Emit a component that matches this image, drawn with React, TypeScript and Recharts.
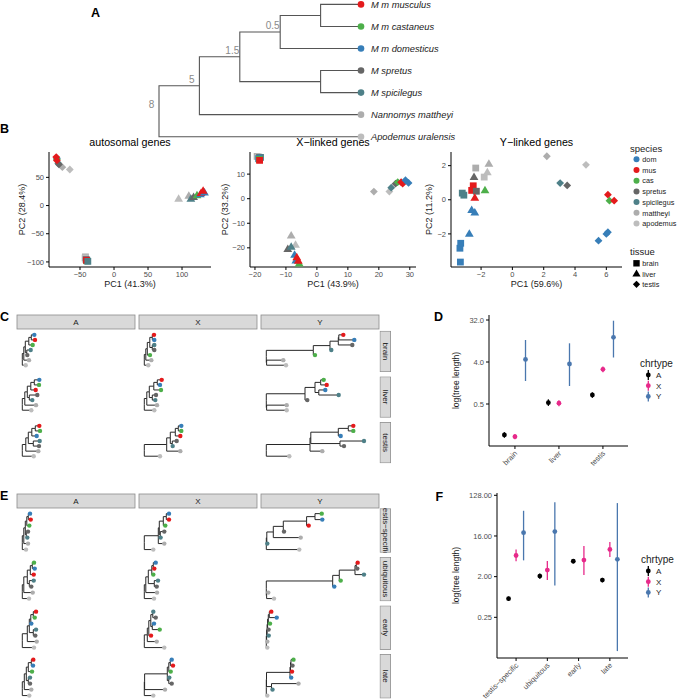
import React from 'react';
import { ComposedChart, ScatterChart, Scatter, Line, XAxis, YAxis, ErrorBar } from 'recharts';

const FONT = '"Liberation Sans", Arial, Helvetica, sans-serif';
const TICK_GRAY = '#4d4d4d';

// species keys, legend labels, colours
const speciesKeys = ['dom', 'mus', 'cas', 'spr', 'spi', 'mat', 'apo'];
const speciesLabels = ['dom', 'mus', 'cas', 'spretus', 'spicilegus', 'mattheyi', 'apodemus'];
const speciesFullNames = ['M m domesticus', 'M m musculus', 'M m castaneus', 'M spretus', 'M spicilegus', 'Nannomys mattheyi', 'Apodemus uralensis'];
const speciesColors = ['#377EB8', '#E41A1C', '#4DAF4A', '#666666', '#4E8088', '#ADADAD', '#BDBDBD'];
const tissues = ['brain', 'liver', 'testis'];
const colorOf = (k: string) => speciesColors[speciesKeys.indexOf(k)];

// ---- A: species tree (cladogram, node ages as labels)
const speciesTree = '(((((mus:1,cas:1):1,dom:2)0.5:1,(spr:1,spi:1):2)1.5:1,mat:4)5:1,apo:5)8;';

// ---- B: PCA
const autoBrain = [
  { sp: 'mat', x: -42, y: -91 }, { sp: 'apo', x: -42.5, y: -93 }, { sp: 'spr', x: -41, y: -96 },
  { sp: 'dom', x: -40, y: -97 }, { sp: 'cas', x: -40, y: -98 }, { sp: 'mus', x: -40.5, y: -97 }, { sp: 'spi', x: -38.5, y: -99 },
];
const autoLiver = [
  { sp: 'apo', x: 95, y: 12 }, { sp: 'mat', x: 110, y: 17 }, { sp: 'spi', x: 113, y: 12 }, { sp: 'spr', x: 117, y: 15 },
  { sp: 'cas', x: 122, y: 18 }, { sp: 'dom', x: 127, y: 20 }, { sp: 'mus', x: 128, y: 22 }, { sp: 'dom', x: 133, y: 23 }, { sp: 'mus', x: 131, y: 26 },
];
const autoTestis = [
  { sp: 'apo', x: -65, y: 64 }, { sp: 'mat', x: -76, y: 68 }, { sp: 'spi', x: -82, y: 75 }, { sp: 'spr', x: -81, y: 73 },
  { sp: 'dom', x: -84, y: 84 }, { sp: 'cas', x: -84, y: 82 }, { sp: 'mus', x: -85, y: 86 }, { sp: 'mus', x: -84, y: 80 },
];
const xBrain = [
  { sp: 'mat', x: -19.3, y: 17.2 }, { sp: 'apo', x: -18.8, y: 17 }, { sp: 'spr', x: -18.5, y: 16.8 }, { sp: 'spi', x: -18.2, y: 16.8 },
  { sp: 'dom', x: -18.8, y: 16.3 }, { sp: 'cas', x: -18.6, y: 16 }, { sp: 'mus', x: -18.5, y: 15.6 },
];
const xLiver = [
  { sp: 'mat', x: -8.3, y: -15 }, { sp: 'apo', x: -6.9, y: -18.8 }, { sp: 'spr', x: -9.4, y: -20.5 }, { sp: 'spi', x: -8.3, y: -19.6 },
  { sp: 'dom', x: -7.2, y: -22.9 }, { sp: 'dom', x: -6.8, y: -25.2 }, { sp: 'cas', x: -5.7, y: -26.4 }, { sp: 'mus', x: -6.5, y: -23.9 }, { sp: 'mus', x: -6, y: -25.3 },
];
const xTestis = [
  { sp: 'mat', x: 18.4, y: 2.9 }, { sp: 'apo', x: 23.4, y: 2.9 }, { sp: 'spi', x: 24, y: 4.5 }, { sp: 'spr', x: 25.4, y: 6.1 },
  { sp: 'cas', x: 26.1, y: 6.7 }, { sp: 'mus', x: 27.2, y: 6.7 }, { sp: 'mus', x: 27.7, y: 6.1 }, { sp: 'dom', x: 28.6, y: 7.5 }, { sp: 'dom', x: 29.6, y: 6.4 },
];
const yBrain = [
  { sp: 'dom', x: -3.32, y: -3.65 }, { sp: 'dom', x: -3.35, y: -2.84 }, { sp: 'dom', x: -3.3, y: -2.55 }, { sp: 'spi', x: -3.2, y: 0.39 },
  { sp: 'spi', x: -3.1, y: 0.27 }, { sp: 'mus', x: -2.5, y: 0.82 }, { sp: 'mus', x: -2.6, y: 0.55 }, { sp: 'spr', x: -2.3, y: 0.5 },
  { sp: 'mat', x: -2.34, y: 1.86 }, { sp: 'apo', x: -1.8, y: 1.33 },
];
const yLiver = [
  { sp: 'mat', x: -1.5, y: 2.1 }, { sp: 'apo', x: -1.6, y: 1.6 }, { sp: 'spr', x: -2.45, y: 1.33 }, { sp: 'cas', x: -1.75, y: 0.55 },
  { sp: 'mus', x: -2.4, y: 0.12 }, { sp: 'dom', x: -2.6, y: -0.6 }, { sp: 'dom', x: -2.4, y: -0.75 }, { sp: 'dom', x: -2.75, y: -2.0 },
];
const yTestis = [
  { sp: 'mat', x: 2.2, y: 2.55 }, { sp: 'apo', x: 4.7, y: 2.05 }, { sp: 'spi', x: 3.05, y: 0.98 }, { sp: 'spr', x: 3.5, y: 0.84 },
  { sp: 'mus', x: 6.1, y: 0.3 }, { sp: 'cas', x: 6.2, y: -0.05 }, { sp: 'mus', x: 6.5, y: -0.05 },
  { sp: 'dom', x: 6.1, y: -1.9 }, { sp: 'dom', x: 6.0, y: -2.0 }, { sp: 'dom', x: 5.5, y: -2.4 },
];

// ---- C: trees per tissue (columns A, X, Y)
const chrCols = ['A', 'X', 'Y'];
const cBrain = [
  '(((((dom:3,mus:3.7):2.5,cas:3.9):3.5,(spi:3.9,spr:0.5):1.5):1.5,mat:5.2):1.5,apo:3.4);',
  '(((((mus:1.7,dom:2):2.5,(spi:2,spr:2):2.5):2.5,cas:2.7):1.5,mat:5.5):1.5,apo:4);',
  '(((((mus:4.5,dom:15.5):0.5,spr:14):8.3,spi:1.3):16.7,cas:1.7):47,(mat:16.7,apo:19.4):0.3);',
];
const cLiver = [
  '(((((dom:5,cas:4.7):3.5,mus:4.9):3.5,(spr:8,spi:3):2):2.5,mat:11.2):2.5,apo:9);',
  '(((((mus:4.4,dom:2.7):3.5,cas:7.2):4.5,(spr:3.7,spi:3):3):2.5,mat:10.2):2.5,apo:10);',
  '((((cas:3,mus:6):5.7,(dom:6.5,spi:19.9):3.8):10,spr:2.3):38.7,(mat:20.1,apo:20.1):0.3);',
];
const cTestis = [
  '(((((mus:4,cas:4.7):3.5,dom:4.9):3.5,(spi:6.4,spr:5.7):5):2.5,mat:12.5):3.5,apo:11.4);',
  '(((((dom:3,cas:3):3,mus:5):5,(spr:4.4,spi:0.4):2):3.6,mat:13.6):22.4,apo:15.7);',
  '(((((mus:5,cas:5):10,dom:2.4):27.5,(spi:24,spr:4):29.2):0.8,mat:12.3):43.7,apo:23);',
];

// ---- E: trees per gene class
const geneClasses = ['testis\u2212specific', 'ubiquitous', 'early', 'late'];
const eTestisSpecific = [
  '(((((dom:1.7,mus:2.4):1.5,cas:2.5):1.5,(spr:1.7,spi:1):1):1.5,mat:4.2):1.5,apo:3.7);',
  '(((((dom:2.7,mus:2.7):3,cas:2):4,(spr:4,spi:0.3):1):1,mat:6):14,apo:9);',
  '((((((cas:6.7,dom:7.3):8.4,mus:2.1):23.3,spr:0.7):10,mat:27.4):6.5,spi:0.5):0.5,apo:33);',
];
const eUbiquitous = [
  '(((((cas:1.7,dom:2.4):2,mus:3.4):3,(spi:4.4,spr:2):2):3.5,mat:8.9):1.5,apo:6.7);',
  '(((((dom:2.4,mus:1):1.5,cas:1.5):3.5,(spi:3.7,spr:2.4):6):2.5,mat:11.2):1.5,apo:9.7);',
  '(((((mus:1.4,spr:1):1.3,spi:9):15.7,cas:1.4):6.6,dom:1.6):66.4,(mat:1.7,apo:7.4):0.3);',
];
const eEarly = [
  '(((((mus:2.7,cas:1.4):2.5,dom:0.5):1.5,(spi:2.7,spr:2):4):2,mat:9.4):5,apo:11.7);',
  '(((((spi:0.5,spr:2.9):2,(dom:1.7,cas:7.4):1.5):2,mus:2.2):1.5,mat:9.4):3,apo:20);',
  '((((((mus:2,dom:7.4):1,cas:1.7):0.7,spr:1):0.5,spi:1.6):0.5,mat:0.7):0.3,apo:1);',
];
const eLate = [
  '(((((mus:2,dom:1.7):3,cas:3.7):2,(spi:1.7,spr:1.7):2):2,mat:7):2,apo:7);',
  '(((((dom:1.4,mus:2.7):1.5,cas:1.9):1.5,(spi:0.5,spr:2.9):1.5):22.7,mat:20.4):0.3,apo:9);',
  '((((((cas:2.5,spr:1.5):0.5,mus:1.5):0.5,dom:1.2):23.5,(mat:27,spi:1):5):0.2,apo:1);',
];

// ---- D: tree length by tissue
const dA = [
  { cat: 'brain', mean: 0.108, lo: 0.094, hi: 0.124 },
  { cat: 'liver', mean: 0.535, lo: 0.455, hi: 0.63 },
  { cat: 'testis', mean: 0.78, lo: 0.68, hi: 0.89 },
];
const dX = [
  { cat: 'brain', mean: 0.099, lo: 0.087, hi: 0.113 },
  { cat: 'liver', mean: 0.52, lo: 0.445, hi: 0.6 },
  { cat: 'testis', mean: 2.78, lo: 2.4, hi: 3.2 },
];
const dY = [
  { cat: 'brain', mean: 4.55, lo: 1.56, hi: 11.9 },
  { cat: 'liver', mean: 3.62, lo: 1.22, hi: 10.1 },
  { cat: 'testis', mean: 13.6, lo: 5.0, hi: 30.9 },
];

// ---- F: tree length by gene class
const fA = [
  { cat: 'testis\u2212specific', mean: 0.65, lo: 0.58, hi: 0.72 },
  { cat: 'ubiquitous', mean: 2.06, lo: 1.8, hi: 2.35 },
  { cat: 'early', mean: 4.4, lo: 3.95, hi: 4.9 },
  { cat: 'late', mean: 1.68, lo: 1.5, hi: 1.88 },
];
const fX = [
  { cat: 'testis\u2212specific', mean: 5.9, lo: 4.4, hi: 8.06 },
  { cat: 'ubiquitous', mean: 2.8, lo: 1.68, hi: 4.44 },
  { cat: 'early', mean: 4.66, lo: 2.17, hi: 9.6 },
  { cat: 'late', mean: 8.06, lo: 5.46, hi: 11.7 },
];
const fY = [
  { cat: 'testis\u2212specific', mean: 18.9, lo: 4.6, hi: 58 },
  { cat: 'ubiquitous', mean: 20, lo: 1.28, hi: 90 },
  { cat: 'late', mean: 4.86, lo: 0.0445, hi: 86 },
];

const chrColors = { A: '#000000', X: '#E7298A', Y: '#4A77AE' };

// ---------- helpers
type TNode = { name: string; len: number; kids: TNode[]; x: number; y: number };

function parseNewick(src: string): TNode {
  const s = src.trim().replace(/;$/, '');
  let i = 0;
  const read = (): TNode => {
    const n: TNode = { name: '', len: 0, kids: [], x: 0, y: 0 };
    if (s[i] === '(') {
      i++;
      n.kids.push(read());
      while (s[i] === ',') {
        i++;
        n.kids.push(read());
      }
      i++;
    }
    let name = '';
    while (i < s.length && !':,()'.includes(s[i])) name += s[i++];
    n.name = name;
    if (s[i] === ':') {
      i++;
      let num = '';
      while (i < s.length && !',()'.includes(s[i])) num += s[i++];
      n.len = parseFloat(num);
    }
    return n;
  };
  return read();
}

function layoutTree(nwk: string) {
  const root = parseNewick(nwk);
  const tips: TNode[] = [];
  const collect = (n: TNode) => {
    if (!n.kids.length) tips.push(n);
    n.kids.forEach(collect);
  };
  collect(root);
  tips.forEach((t, k) => (t.y = tips.length - k));
  const place = (n: TNode, x: number) => {
    n.x = x;
    n.kids.forEach((k) => place(k, x + k.len));
    if (n.kids.length) n.y = n.kids.reduce((a, k) => a + k.y, 0) / n.kids.length;
  };
  place(root, 0);
  const segs: { x: number; y: number | null }[] = [];
  const inner: { x: number; y: number; label: string }[] = [];
  const walk = (n: TNode) => {
    if (n.kids.length && n.name) inner.push({ x: n.x, y: n.y, label: n.name });
    n.kids.forEach((k) => {
      segs.push({ x: n.x, y: n.y }, { x: n.x, y: k.y }, { x: k.x, y: k.y }, { x: k.x, y: null });
      walk(k);
    });
  };
  walk(root);
  return { segs, inner, tips: tips.map((t) => ({ x: t.x, y: t.y, sp: t.name })) };
}

const fmtMinus = (v: number) => (v < 0 ? `\u2212${Math.abs(v)}` : `${v}`);

const axisStyle = {
  axisLine: { stroke: '#000', strokeWidth: 1 },
  tickLine: { stroke: '#000', strokeWidth: 1 },
  tickSize: 3,
  tick: { fontSize: 7.5, fill: TICK_GRAY, fontFamily: FONT },
  interval: 0 as const,
};

// ---------- A
function SpeciesTreePanel() {
  const t = layoutTree(speciesTree);
  const tipShape = (p: any) => {
    const d = p.payload ?? p;
    const k = speciesKeys.indexOf(d.sp);
    return (
      <g>
        <circle cx={p.cx} cy={p.cy} r={3.3} fill={speciesColors[k]} />
        <text x={p.cx + 10} y={p.cy} dy="0.35em" fontSize={9.3} fontStyle="italic" fill="#222" fontFamily={FONT}>
          {speciesFullNames[k]}
        </text>
      </g>
    );
  };
  const nodeShape = (p: any) => {
    const d = p.payload ?? p;
    return (
      <text x={p.cx - 7.5} y={p.cy - 3} textAnchor="middle" fontSize={10} fill="#8a8a8a" fontFamily={FONT}>
        {d.label}
      </text>
    );
  };
  return (
    <div style={{ position: 'absolute', left: 100, top: 0 }}>
      <ComposedChart width={420} height={145} margin={{ top: 4.4, right: 159, bottom: 8.3, left: 59 }}>
        <XAxis type="number" dataKey="x" domain={[0, 5]} hide />
        <YAxis type="number" dataKey="y" domain={[1, 7]} hide />
        <Line data={t.segs} dataKey="y" type="linear" stroke="#555" strokeWidth={1.1} dot={false} activeDot={false} connectNulls={false} isAnimationActive={false} />
        <Scatter data={t.inner} dataKey="y" shape={nodeShape} isAnimationActive={false} />
        <Scatter data={t.tips} dataKey="y" shape={tipShape} isAnimationActive={false} />
      </ComposedChart>
    </div>
  );
}

// ---------- B
function pcaShape(p: any) {
  const d = p.payload ?? p;
  const c = colorOf(d.sp);
  const { cx, cy } = p;
  if (d.tis === 'brain') return <rect x={cx - 3.4} y={cy - 3.4} width={6.8} height={6.8} fill={c} />;
  if (d.tis === 'liver') return <path d={`M${cx},${cy - 4.6}L${cx + 4.4},${cy + 2.9}L${cx - 4.4},${cy + 2.9}Z`} fill={c} />;
  return <path d={`M${cx},${cy - 3.9}L${cx + 3.9},${cy}L${cx},${cy + 3.9}L${cx - 3.9},${cy}Z`} fill={c} />;
}

const withTissue = (brain: any[], liver: any[], testis: any[]) => [
  ...brain.map((p) => ({ ...p, tis: 'brain' })),
  ...liver.map((p) => ({ ...p, tis: 'liver' })),
  ...testis.map((p) => ({ ...p, tis: 'testis' })),
];

const pcaPanels = [
  { pts: withTissue(autoBrain, autoLiver, autoTestis), rect: [49, 152, 211, 267], xd: [-95.6, 142.6], yd: [-109, 95], xt: [-50, 0, 50, 100], yt: [-100, -50, 0, 50] },
  { pts: withTissue(xBrain, xLiver, xTestis), rect: [250, 152, 416, 267], xd: [-21.6, 32], yd: [-27.8, 19], xt: [-20, -10, 0, 10, 20, 30], yt: [-20, -10, 0, 10] },
  { pts: withTissue(yBrain, yLiver, yTestis), rect: [451, 152, 622, 267], xd: [-3.92, 7.0], yd: [-3.94, 2.8], xt: [-2, 0, 2, 4, 6], yt: [-2, 0, 2] },
];

function PcaPanel({ pts, rect, xd, yd, xt, yt }: any) {
  const [l, t, r, b] = rect;
  const padL = 30, padB = 18, pad = 6;
  return (
    <div style={{ position: 'absolute', left: l - padL, top: t - pad }}>
      <ScatterChart width={padL + (r - l) + pad} height={pad + (b - t) + padB} margin={{ top: pad, right: pad, bottom: 0, left: 0 }}>
        <XAxis type="number" dataKey="x" domain={xd} ticks={xt} height={padB} tickFormatter={fmtMinus} {...axisStyle} />
        <YAxis type="number" dataKey="y" domain={yd} ticks={yt} width={padL} tickFormatter={fmtMinus} {...axisStyle} />
        <Scatter data={pts} shape={pcaShape} isAnimationActive={false} />
      </ScatterChart>
    </div>
  );
}

// ---------- C / E
const colLefts = [17, 139, 261];
const panelW = 118;
const treeXDomain = [-5.3, 112.7];

function TreePanel({ nwk, left, top, height, yDomain }: any) {
  const t = layoutTree(nwk);
  const dot = (p: any) => {
    const d = p.payload ?? p;
    return <circle cx={p.cx} cy={p.cy} r={2.2} fill={colorOf(d.sp)} />;
  };
  return (
    <div style={{ position: 'absolute', left, top }}>
      <ComposedChart width={panelW} height={height} margin={{ top: 0, right: 0, bottom: 0, left: 0 }}>
        <XAxis type="number" dataKey="x" domain={treeXDomain} hide />
        <YAxis type="number" dataKey="y" domain={yDomain} hide />
        <Line data={t.segs} dataKey="y" type="linear" stroke="#262626" strokeWidth={1} dot={false} activeDot={false} connectNulls={false} isAnimationActive={false} />
        <Scatter data={t.tips} dataKey="y" shape={dot} isAnimationActive={false} />
      </ComposedChart>
    </div>
  );
}

const cGrid = [cBrain, cLiver, cTestis];
const eGrid = [eTestisSpecific, eUbiquitous, eEarly, eLate];
const cRowTops = [330.8, 376.4, 422];
const cRowH = 41.3;
const eRowTops = [508.3, 556.9, 605.5, 654.1];
const eRowH = 44.4;

// ---------- D / F
function dodgeSeries(cats: string[], groups: { key: 'A' | 'X' | 'Y'; rows: any[] }[]) {
  return groups.map((g) => ({
    key: g.key,
    data: g.rows.map((row) => {
      const present = groups.filter((h) => h.rows.some((r2) => r2.cat === row.cat)).map((h) => h.key);
      const n = present.length;
      const k = present.indexOf(g.key);
      const step = n === 3 ? 0.24 : 0.34;
      return { x: cats.indexOf(row.cat) + 1 + (k - (n - 1) / 2) * step, y: row.mean, err: [row.mean - row.lo, row.hi - row.mean] };
    }),
  }));
}

function RotTick(labels: string[]) {
  return (p: any) => {
    const { x, y, payload } = p;
    const ax = x + 1, ay = y + 1;
    return (
      <text x={ax} y={ay} transform={`rotate(-45 ${ax} ${ay})`} textAnchor="end" dy="0.35em" fontSize={7.5} fill={TICK_GRAY} fontFamily={FONT}>
        {labels[Math.round(payload.value) - 1]}
      </text>
    );
  };
}

function LengthPanel({ cats, series, rect, xd, yd, yt, fmt, padL, padB }: any) {
  const [l, t, r, b] = rect;
  const pad = 6;
  const dot = (c: string) => (p: any) => <circle cx={p.cx} cy={p.cy} r={2.4} fill={c} />;
  return (
    <div style={{ position: 'absolute', left: l - padL, top: t - pad }}>
      <ScatterChart width={padL + (r - l) + pad} height={pad + (b - t) + padB} margin={{ top: pad, right: pad, bottom: 0, left: 0 }}>
        <XAxis type="number" dataKey="x" domain={xd} ticks={cats.map((_: string, i: number) => i + 1)} height={padB} {...axisStyle} tick={RotTick(cats)} />
        <YAxis type="number" dataKey="y" scale="log" domain={yd} ticks={yt} width={padL} tickFormatter={fmt} {...axisStyle} />
        {series.map((s: any) => (
          <Scatter key={s.key} data={s.data} shape={dot((chrColors as any)[s.key])} isAnimationActive={false}>
            <ErrorBar dataKey="err" direction="y" width={0} stroke={(chrColors as any)[s.key]} strokeWidth={1.3} isAnimationActive={false} />
          </Scatter>
        ))}
      </ScatterChart>
    </div>
  );
}

const dSeries = dodgeSeries(tissues, [{ key: 'A', rows: dA }, { key: 'X', rows: dX }, { key: 'Y', rows: dY }]);
const fSeries = dodgeSeries(geneClasses, [{ key: 'A', rows: fA }, { key: 'X', rows: fX }, { key: 'Y', rows: fY }]);

// ---------- overlay text, strips, legends
function Strips({ top, rowTops, rowH, rowLabels }: any) {
  return (
    <g>
      {chrCols.map((c, j) => (
        <g key={c}>
          <rect x={colLefts[j]} y={top} width={panelW} height={14} fill="#D9D9D9" stroke="#8C8C8C" strokeWidth={0.8} />
          <text x={colLefts[j] + panelW / 2} y={top + 7} dy="0.35em" textAnchor="middle" fontSize={8} fill="#1a1a1a">{c}</text>
        </g>
      ))}
      {rowLabels.map((lab: string, i: number) => (
        <svg key={lab} x={379.6} y={rowTops[i]} width={11.4} height={rowH} overflow="hidden">
          <rect x={0.4} y={0.4} width={10.6} height={rowH - 0.8} fill="#D9D9D9" stroke="#8C8C8C" strokeWidth={0.8} />
          <text x={5.7} y={rowH / 2} dy="0.35em" textAnchor="middle" fontSize={8} fill="#1a1a1a" transform={`rotate(90 5.7 ${rowH / 2})`}>{lab}</text>
        </svg>
      ))}
    </g>
  );
}

function ChrLegend({ x, y }: any) {
  return (
    <g>
      <text x={x} y={y} fontSize={10} fill="#1a1a1a">chrtype</text>
      {(['A', 'X', 'Y'] as const).map((k, i) => {
        const cy = y + 8.5 + i * 10.7;
        return (
          <g key={k}>
            <line x1={648.3} x2={648.3} y1={cy - 5} y2={cy + 5} stroke={chrColors[k]} strokeWidth={1.3} />
            <circle cx={648.3} cy={cy} r={2.4} fill={chrColors[k]} />
            <text x={656} y={cy + 2.8} fontSize={8} fill="#1a1a1a">{k}</text>
          </g>
        );
      })}
    </g>
  );
}

function Overlay() {
  const letters = [['A', 91, 17], ['B', 0, 133], ['C', 0, 321], ['D', 434, 321], ['E', 0, 500], ['F', 435.5, 501]];
  const titles = ['autosomal genes', 'X\u2212linked genes', 'Y\u2212linked genes'];
  const xlabs = ['PC1 (41.3%)', 'PC1 (43.9%)', 'PC1 (59.6%)'];
  const ylabs = ['PC2 (28.4%)', 'PC2 (33.2%)', 'PC2 (11.2%)'];
  const ylabX = [25, 228, 432];
  return (
    <svg width={678} height={699} style={{ position: 'absolute', left: 0, top: 0, pointerEvents: 'none' }} fontFamily={FONT}>
      {letters.map(([t, x, y]) => (
        <text key={t as string} x={x as number} y={y as number} fontSize={12.5} fontWeight="bold" fill="#000">{t}</text>
      ))}
      {pcaPanels.map((p, i) => {
        const cx = (p.rect[0] + p.rect[2]) / 2;
        const cy = (p.rect[1] + p.rect[3]) / 2;
        return (
          <g key={i}>
            <text x={cx} y={145.5} textAnchor="middle" fontSize={10.7} fill="#000">{titles[i]}</text>
            <text x={cx} y={286.5} textAnchor="middle" fontSize={9} fill="#1a1a1a">{xlabs[i]}</text>
            <text x={ylabX[i]} y={cy} textAnchor="middle" fontSize={9} fill="#1a1a1a" transform={`rotate(-90 ${ylabX[i]} ${cy})`}>{ylabs[i]}</text>
          </g>
        );
      })}
      {/* B legend */}
      <text x={630} y={151.5} fontSize={9.5} fill="#1a1a1a">species</text>
      {speciesLabels.map((lab, i) => (
        <g key={lab}>
          <circle cx={636.5} cy={159.3 + i * 10.7} r={3} fill={speciesColors[i]} />
          <text x={642.3} y={159.3 + i * 10.7 + 2.7} fontSize={7.3} fill="#1a1a1a">{lab}</text>
        </g>
      ))}
      <text x={630} y={255} fontSize={9.5} fill="#1a1a1a">tissue</text>
      {tissues.map((tis, i) => {
        const cy = 263.3 + i * 10.5;
        const cx = 636.5;
        const shape =
          tis === 'brain' ? <rect x={cx - 3.2} y={cy - 3.2} width={6.4} height={6.4} fill="#000" /> :
          tis === 'liver' ? <path d={`M${cx},${cy - 4.3}L${cx + 4.1},${cy + 2.7}L${cx - 4.1},${cy + 2.7}Z`} fill="#000" /> :
          <path d={`M${cx},${cy - 3.6}L${cx + 3.6},${cy}L${cx},${cy + 3.6}L${cx - 3.6},${cy}Z`} fill="#000" />;
        return (
          <g key={tis}>
            {shape}
            <text x={642.3} y={cy + 2.7} fontSize={7.3} fill="#1a1a1a">{tis}</text>
          </g>
        );
      })}
      <Strips top={315} rowTops={cRowTops} rowH={cRowH} rowLabels={tissues} />
      <Strips top={494} rowTops={eRowTops} rowH={eRowH} rowLabels={geneClasses} />
      {/* D / F */}
      <text x={459} y={380.5} textAnchor="middle" fontSize={8.5} fill="#1a1a1a" transform="rotate(-90 459 380.5)">log(tree length)</text>
      <text x={459} y={575.5} textAnchor="middle" fontSize={8.5} fill="#1a1a1a" transform="rotate(-90 459 575.5)">log(tree length)</text>
      <ChrLegend x={640} y={366.5} />
      <ChrLegend x={641} y={562.5} />
    </svg>
  );
}

export default function App() {
  return (
    <div style={{ position: 'absolute', left: 0, top: 0, width: 678, height: 699, background: '#fff', fontFamily: FONT, overflow: 'hidden' }}>
      <SpeciesTreePanel />
      {pcaPanels.map((p, i) => (
        <PcaPanel key={i} {...p} />
      ))}
      {cGrid.map((row, i) =>
        row.map((nwk, j) => (
          <TreePanel key={`c${i}${j}`} nwk={nwk} left={colLefts[j]} top={cRowTops[i]} height={cRowH} yDomain={[-0.4, 7.76]} />
        )),
      )}
      {eGrid.map((row, i) =>
        row.map((nwk, j) => (
          <TreePanel key={`e${i}${j}`} nwk={nwk} left={colLefts[j]} top={eRowTops[i]} height={eRowH} yDomain={[0.53, 7.94]} />
        )),
      )}
      <LengthPanel cats={tissues} series={dSeries} rect={[489, 315, 628, 446]} xd={[0.41, 3.57]} yd={[0.0625, 41]} yt={[0.5, 4, 32]} fmt={(v: number) => v.toFixed(1)} padL={40} padB={50} />
      <LengthPanel cats={geneClasses} series={fSeries} rect={[497, 493, 628, 658]} xd={[0.39, 4.58]} yd={[0.03125, 144]} yt={[0.25, 2, 16, 128]} fmt={(v: number) => v.toFixed(2)} padL={45} padB={41} />
      <Overlay />
    </div>
  );
}
